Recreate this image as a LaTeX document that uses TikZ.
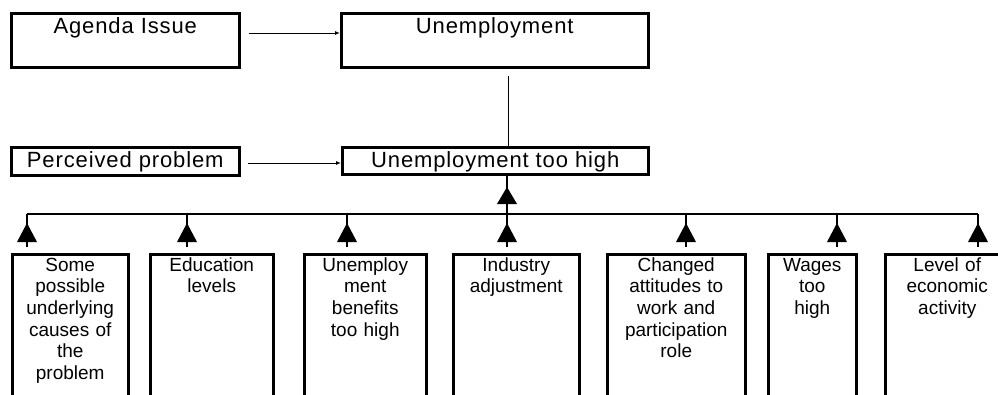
\documentclass[tikz,border=0pt]{standalone}
\usepackage{fontspec}
\setmainfont{Liberation Sans}
\newfontfamily\widefont[LetterSpace=4]{Liberation Sans}
\usetikzlibrary{arrows.meta,calc}
\begin{document}
\begin{tikzpicture}[x=1pt,y=-1pt,
  box/.style={draw, line width=2.5pt, inner sep=0pt, anchor=north west, rectangle},
  toptext/.style={anchor=base, inner sep=0pt, font=\widefont\fontsize{22}{24}\selectfont},
  lowtext/.style={anchor=base, inner sep=0pt, text width=140pt, align=center, font=\fontsize{19}{21.7}\selectfont},
  conn/.style={line width=1.4pt},
  smallarrow/.style={line width=1pt, -{Latex[length=5pt,width=4pt]}},
  tri/.style={fill=black}]
\clip (0,0) rectangle (998,394);
\fill[white] (0,0) rectangle (998,394);
% top row
\node[box, minimum width=228pt, minimum height=54pt] (agenda) at (10,12) {};
\node[box, minimum width=307pt, minimum height=54pt] (unemp) at (340,12) {};
\node[box, minimum width=228pt, minimum height=28pt] (perc) at (10,146) {};
\node[box, minimum width=306pt, minimum height=27pt] (high) at (341,146) {};
\node[toptext] (agendaT) at ($(agenda.north)+(0,21)$) {Agenda Issue};
\node[toptext] (unempT) at ($(unemp.north)+(0,21)$) {Unemployment};
\node[toptext] (percT) at ($(perc.north)+(0,21)$) {Perceived problem};
\node[toptext] (highT) at ($(high.north)+(0,21)$) {Unemployment too high};
\draw[smallarrow] ($(agenda.north east)+(8,21)$) -- ($(unemp.north west)+(0,21)$);
\draw[smallarrow] ($(perc.north east)+(7,17)$) -- ($(high.north west)+(0,17)$);
\draw[conn] ($(unemp.south)+(13.5,7)$) -- ($(high.north)+(13,0)$);
% bottom boxes
\node[box, minimum width=116pt, minimum height=200pt] (b1) at (11,253) {};
\node[box, minimum width=123pt, minimum height=200pt] (b2) at (149,253) {};
\node[box, minimum width=122pt, minimum height=200pt] (b3) at (303,253) {};
\node[box, minimum width=126pt, minimum height=200pt] (b4) at (452,253) {};
\node[box, minimum width=138pt, minimum height=200pt] (b5) at (606,253) {};
\node[box, minimum width=88pt, minimum height=200pt] (b6) at (767,253) {};
\node[box, minimum width=124pt, minimum height=200pt] (b7) at (884,253) {};
\node[lowtext] (t1) at ($(b1.north)+(0,18)$) {Some\\possible\\underlying\\causes of\\the\\problem};
\node[lowtext] (t2) at ($(b2.north)+(0,18)$) {Education\\levels};
\node[lowtext] (t3) at ($(b3.north)+(0,18)$) {Unemploy\\ment\\benefits\\too high};
\node[lowtext] (t4) at ($(b4.north)+(0,18)$) {Industry\\adjustment};
\node[lowtext] (t5) at ($(b5.north)+(0,18)$) {Changed\\attitudes to\\work and\\participation\\role};
\node[lowtext] (t6) at ($(b6.north)+(0,18)$) {Wages\\too\\high};
\node[lowtext] (t7) at ($(b7.north)+(0,18)$) {Level of\\economic\\activity};
% bus and arrows
\coordinate (jc) at (507,214);
\draw[conn] (high.south -| jc) -- (jc);
\fill[tri] (507,187) -- ++(-10,17) -- ++(20,0) -- cycle;
\foreach \i/\x in {1/27,2/187,3/347,4/507,5/686,6/837,7/978} {
  \coordinate (j\i) at (\x,214);
  \draw[conn] (j\i) -- ($(j\i |- b\i.north)+(0,-6)$);
  \fill[tri] (\x,223) -- ++(-10,19) -- ++(20,0) -- cycle;
}
\draw[conn] (j1) -- (j7);
\end{tikzpicture}
\end{document}
